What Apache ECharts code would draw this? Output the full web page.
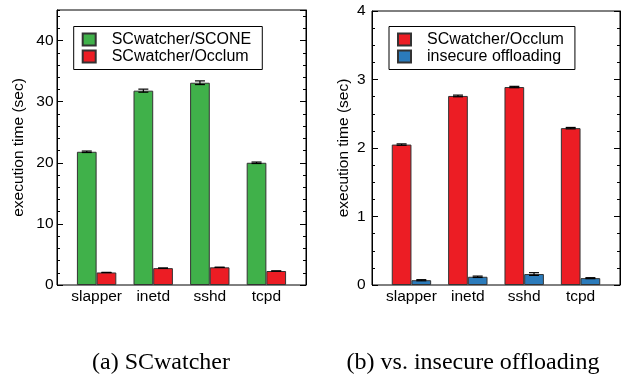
<!DOCTYPE html>
<html><head><meta charset="utf-8">
<script src="https://cdn.jsdelivr.net/npm/echarts@6/dist/echarts.min.js"></script>
<style>html,body{margin:0;padding:0;background:#fff}#c{width:627px;height:379px}</style>
</head><body><div id="c"></div>
<script>
// ---- data ----
const categories = ['slapper', 'inetd', 'sshd', 'tcpd'];
const sconeTime = [21.8, 31.8, 33.1, 20.0];
const sconeErr = [0.12, 0.25, 0.3, 0.12];
const occlumTime = [2.05, 2.76, 2.89, 2.29];
const occlumErr = [0.01, 0.012, 0.01, 0.01];
const insecureTime = [0.07, 0.12, 0.16, 0.10];
const insecureErr = [0.008, 0.01, 0.02, 0.007];
const leftYTicks = [0, 10, 20, 30, 40];
const rightYTicks = [0, 1, 2, 3, 4];
const captions = ['(a) SCwatcher', '(b) vs. insecure offloading'];

// ---- styles ----
const FONT = 'Liberation Sans';
const GREEN = '#40b14a', RED = '#ec1d24', BLUE = '#2b7bbb';
const BAR_W = 19.7;

function pts(vals) { return vals.map((v, i) => [i, v]); }
function errPts(vals, errs) { return vals.map((v, i) => [i, v, errs[i]]); }

function errRender(offset) {
  return function (params, api) {
    const x = api.value(0), y = api.value(1), e = api.value(2);
    const hi = api.coord([x, y + e]), lo = api.coord([x, y - e]);
    const cx = hi[0] + offset, w = 5;
    const st = { stroke: '#000', lineWidth: 1.2 };
    return { type: 'group', children: [
      { type: 'line', shape: { x1: cx, y1: hi[1], x2: cx, y2: lo[1] }, style: st },
      { type: 'line', shape: { x1: cx - w, y1: hi[1], x2: cx + w, y2: hi[1] }, style: st },
      { type: 'line', shape: { x1: cx - w, y1: lo[1], x2: cx + w, y2: lo[1] }, style: st }
    ]};
  };
}

function xAxisFor(grid) {
  return {
    gridIndex: grid, type: 'value', min: -0.7, max: 3.7,
    axisLine: { show: false, onZero: false }, axisTick: { show: false }, splitLine: { show: false },
    axisLabel: {
      color: '#000', fontFamily: FONT, fontSize: 15.5, margin: 4,
      formatter: v => Math.abs(v - Math.round(v)) < 1e-6 && categories[Math.round(v)] !== undefined ? categories[Math.round(v)] : ''
    }
  };
}

function yAxesFor(grid, ticks, minorInterval, labelMargin, nameGap) {
  const min = ticks[0], interval = ticks[1] - ticks[0];
  const max = grid === 0 ? 45 : ticks[ticks.length - 1];
  const base = { gridIndex: grid, type: 'value', min: min, max: max, splitLine: { show: false } };
  return [
    Object.assign({}, base, {
      position: 'left', interval: interval,
      name: 'execution time (sec)', nameLocation: 'middle', nameGap: nameGap,
      nameTextStyle: { color: '#000', fontFamily: FONT, fontSize: 15.5 },
      axisLine: { show: true, onZero: false, lineStyle: { color: '#000' } },
      axisTick: { show: true, inside: true, length: 6, lineStyle: { color: '#000' } },
      axisLabel: { color: '#000', fontFamily: FONT, fontSize: 15.5, margin: labelMargin, showMaxLabel: grid !== 0,
        formatter: v => ticks.indexOf(v) >= 0 ? String(v) : '' }
    }),
    Object.assign({}, base, {
      position: 'left', interval: minorInterval,
      axisLine: { show: false, onZero: false }, axisLabel: { show: false },
      axisTick: { show: true, inside: true, length: 3, lineStyle: { color: '#000' } }
    }),
    Object.assign({}, base, {
      position: 'right', interval: interval,
      axisLine: { show: true, onZero: false, lineStyle: { color: '#000' } }, axisLabel: { show: false },
      axisTick: { show: true, inside: true, length: 6, lineStyle: { color: '#000' } }
    }),
    Object.assign({}, base, {
      position: 'right', interval: minorInterval,
      axisLine: { show: false, onZero: false }, axisLabel: { show: false },
      axisTick: { show: true, inside: true, length: 3, lineStyle: { color: '#000' } }
    })
  ];
}

function barSeries(name, vals, color, xi, yi) {
  return {
    type: 'bar', name: name, data: pts(vals), xAxisIndex: xi, yAxisIndex: yi,
    barWidth: BAR_W, barGap: '0%',
    itemStyle: { color: color, borderColor: '#333', borderWidth: 1 }
  };
}
function errSeries(vals, errs, offset, xi, yi) {
  return {
    type: 'custom', data: errPts(vals, errs), xAxisIndex: xi, yAxisIndex: yi, z: 5,
    encode: { x: 0, y: 1 }, renderItem: errRender(offset), silent: true
  };
}

function legendFor(left, names) {
  return {
    left: left, top: 26.5, orient: 'vertical', data: names, icon: 'rect',
    itemWidth: 13, itemHeight: 12, itemGap: 1, padding: [5, 11, 5, 8],
    borderColor: '#000', borderWidth: 1, selectedMode: false,
    textStyle: { color: '#000', fontFamily: FONT, fontSize: 16, lineHeight: 15, padding: [0, 0, 0, 11] }
  };
}

const chart = echarts.init(document.getElementById('c'), null, { renderer: 'canvas' });
chart.setOption({
  animation: false,
  backgroundColor: '#fff',
  grid: [
    { left: 57, right: 321, top: 10, bottom: 94, show: true, borderColor: '#000', borderWidth: 1, outerBoundsMode: 'none' },
    { left: 372, right: 7, top: 11, bottom: 94, show: true, borderColor: '#000', borderWidth: 1, outerBoundsMode: 'none' }
  ],
  xAxis: [xAxisFor(0), xAxisFor(1)],
  yAxis: yAxesFor(0, leftYTicks, 2, 3.5, 30).concat(yAxesFor(1, rightYTicks, 0.25, 6.5, 20)),
  legend: [
    legendFor(73.7, ['SCwatcher/SCONE', 'SCwatcher/Occlum']),
    legendFor(389, ['SCwatcher/Occlum', 'insecure offloading'])
  ],
  series: [
    barSeries('SCwatcher/SCONE', sconeTime, GREEN, 0, 0),
    barSeries('SCwatcher/Occlum', occlumTime, RED, 0, 0),
    errSeries(sconeTime, sconeErr, -BAR_W / 2, 0, 0),
    errSeries(occlumTime, occlumErr, BAR_W / 2, 0, 0),
    barSeries('SCwatcher/Occlum', occlumTime, RED, 1, 4),
    barSeries('insecure offloading', insecureTime, BLUE, 1, 4),
    errSeries(occlumTime, occlumErr, -BAR_W / 2, 1, 4),
    errSeries(insecureTime, insecureErr, BAR_W / 2, 1, 4)
  ],
  graphic: [
    { type: 'text', x: 161, y: 363, style: { text: captions[0], font: '24px "Liberation Serif"', fill: '#000', align: 'center', verticalAlign: 'middle' } },
    { type: 'text', x: 473, y: 363, style: { text: captions[1], font: '24px "Liberation Serif"', fill: '#000', align: 'center', verticalAlign: 'middle' } }
  ]
});
</script>
</body></html>
